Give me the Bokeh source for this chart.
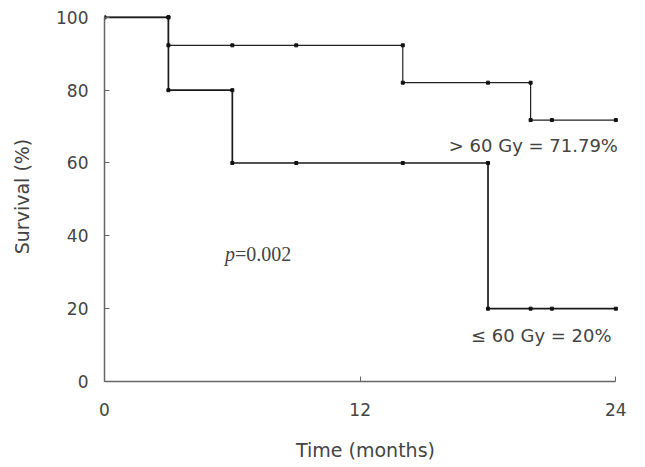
from bokeh.plotting import figure
from bokeh.models import Range1d, Label, FixedTicker
from bokeh.embed import file_html
from bokeh.resources import INLINE

# ---- data ----
hi_step_t = [0, 3, 14, 20, 24]
hi_step_s = [100, 92.31, 82.05, 71.79, 71.79]
lo_step_t = [0, 3, 6, 18, 24]
lo_step_s = [100, 80, 60, 20, 20]

hi_mark_t = [0, 3, 3, 6, 9, 14, 14, 18, 20, 20, 21, 24]
hi_mark_s = [100, 100, 92.31, 92.31, 92.31, 92.31, 82.05, 82.05, 82.05, 71.79, 71.79, 71.79]
lo_mark_t = [3, 3, 6, 6, 9, 14, 18, 18, 20, 21, 24]
lo_mark_s = [100, 80, 80, 60, 60, 60, 60, 20, 20, 20, 20]

x_ticks = [0, 12, 24]
y_ticks = [0, 20, 40, 60, 80, 100]

FONT = "DejaVu Sans"
TXT = "#444444"

p = figure(width=637, height=459, output_backend="svg", toolbar_location=None,
           x_range=Range1d(0, 24.5), y_range=Range1d(0, 101.6),
           frame_width=522, frame_height=370,
           min_border_left=104, min_border_right=11, min_border_top=11, min_border_bottom=78)
p.outline_line_color = None
p.grid.visible = False
p.background_fill_color = "white"

p.step(hi_step_t, hi_step_s, mode="after", line_color="#222222", line_width=1.2)
p.step(lo_step_t, lo_step_s, mode="after", line_color="#1a1a1a", line_width=1.7)
p.scatter(hi_mark_t, hi_mark_s, marker="square", size=3, color="#111111")
p.scatter(lo_mark_t, lo_mark_s, marker="square", size=3, color="#111111")

for ax in (p.xaxis[0], p.yaxis[0]):
    ax.axis_line_color = "#666666"
    ax.axis_line_width = 1.5
    ax.major_tick_line_color = "#666666"
    ax.major_tick_in = 5
    ax.major_tick_out = 0
    ax.minor_tick_line_color = None
    ax.major_label_text_font = FONT
    ax.major_label_text_font_size = "17px"
    ax.major_label_text_color = TXT
    ax.axis_label_text_font = FONT
    ax.axis_label_text_font_size = "19px"
    ax.axis_label_text_color = TXT
    ax.axis_label_text_font_style = "normal"

p.xaxis.ticker = FixedTicker(ticks=x_ticks)
p.yaxis.ticker = FixedTicker(ticks=y_ticks)
p.xaxis.bounds = (0, 24)
p.yaxis.bounds = (0, 100)
p.xaxis.axis_label = "Time (months)"
p.yaxis.axis_label = "Survival (%)"
p.xaxis.major_label_standoff = 21
p.yaxis.major_label_standoff = 16
p.xaxis.axis_label_standoff = 20
p.yaxis.axis_label_standoff = 20

p.add_layout(Label(x=24.1, y=64.75, text="> 60 Gy = 71.79%", text_align="right",
                   text_baseline="middle", text_font=FONT, text_font_size="18px",
                   text_color=TXT))
p.add_layout(Label(x=23.8, y=12.55, text="\u2264 60 Gy = 20%", text_align="right",
                   text_baseline="middle", text_font=FONT, text_font_size="18px",
                   text_color=TXT))
p.add_layout(Label(x=5.66, y=35.1, text="p", text_align="left", text_baseline="middle",
                   text_font="Liberation Serif", text_font_style="italic",
                   text_font_size="20px", text_color=TXT))
p.add_layout(Label(x=5.66, y=35.1, x_offset=10, text="=0.002", text_align="left",
                   text_baseline="middle", text_font="Liberation Serif",
                   text_font_size="20px", text_color=TXT))

open("out.html", "w").write(file_html(p, INLINE))
